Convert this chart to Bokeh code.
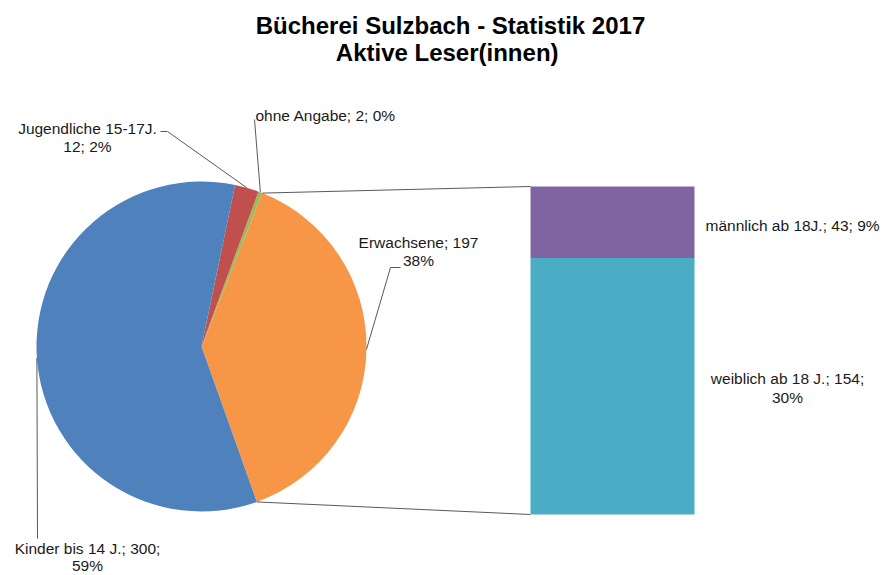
import math
from bokeh.plotting import figure
from bokeh.models import Range1d
from bokeh.core.properties import value
from bokeh.embed import file_html
from bokeh.resources import INLINE

# ---- data ----
pie_labels = ["Erwachsene", "ohne Angabe", "Jugendliche 15-17J.", "Kinder bis 14 J."]
pie_values = [197, 2, 12, 300]
pie_pcts = ["38%", "0%", "2%", "59%"]
pie_colors = ["#F79646", "#9BBB59", "#C0504D", "#4F81BD"]

bar_labels = ["weiblich ab 18 J.", "männlich ab 18J."]
bar_values = [154, 43]
bar_pcts = ["30%", "9%"]
bar_colors = ["#4BACC6", "#8064A2"]

title_lines = ["Bücherei Sulzbach - Statistik 2017", "Aktive  Leser(innen)"]

W, H = 889, 575
FONT = "Liberation Sans"
LBL = "15.5px"

def Y(yr):  # screen y -> data y
    return H - yr

def X(xr):
    return xr

p = figure(width=W, height=H, output_backend="svg", toolbar_location=None,
           x_range=Range1d(0, W), y_range=Range1d(0, H), min_border=0)
p.axis.visible = False
p.grid.visible = False
p.outline_line_color = None

# ---- pie ----
cx, cy, R = X(201), Y(346), 165
total = sum(pie_values)
start_deg = -70.4
angles = []
a = math.radians(start_deg)
for v in pie_values:
    span = 2 * math.pi * v / total
    angles.append((a, a + span))
    a += span

p.wedge(x=[cx] * 4, y=[cy] * 4, radius=R,
        start_angle=[s for s, e in angles], end_angle=[e for s, e in angles],
        direction="anticlock", fill_color=pie_colors, line_color=None)

def edge(ang):
    return cx + R * math.cos(ang), cy + R * math.sin(ang)

# ---- bar ----
bx0, bx1 = X(530), X(694)
bbot, btop = Y(514), Y(186)
sub_total = sum(bar_values)
scale = (btop - bbot) / sub_total
bottoms, tops = [], []
acc = 0
for v in bar_values:
    bottoms.append(bbot + acc * scale)
    acc += v
    tops.append(bbot + acc * scale)
p.quad(left=[bx0] * 2, right=[bx1] * 2, bottom=bottoms, top=tops,
       fill_color=bar_colors, line_color=None)

# connector lines between pie and bar
e_start, e_end = angles[0]
x1, y1 = edge(e_end)
x2, y2 = edge(e_start)
p.segment(x0=[x1, x2], y0=[y1, y2], x1=[bx0, bx0], y1=[tops[-1], bbot],
          line_color="#595959", line_width=1)

# ---- leader lines ----
lc = "#595959"
mx, my = edge((e_start + e_end) / 2)
p.line([mx, X(390), X(400)], [my, Y(267), Y(267)], line_color=lc, line_width=1)
s, e = angles[1]
mx, my = edge((s + e) / 2)
p.line([mx, X(254)], [my, Y(119)], line_color=lc, line_width=1)
s, e = angles[2]
mx, my = edge((s + e) / 2)
p.line([mx, X(167), X(160)], [my, Y(131), Y(131)], line_color=lc, line_width=1)
s, e = angles[3]
mx, my = edge((s + e) / 2)
p.line([mx, X(37)], [my, Y(538)], line_color=lc, line_width=1)

# ---- labels ----
tx_c, ty_c, tt_c = [], [], []
def add_c(x, y, t):
    tx_c.append(X(x)); ty_c.append(Y(y)); tt_c.append(t)

add_c(87, 128, f"{pie_labels[2]}")
add_c(87, 146, f"{pie_values[2]}; {pie_pcts[2]}")
add_c(418, 242, f"{pie_labels[0]}; {pie_values[0]}")
add_c(418, 260, pie_pcts[0])
add_c(87, 548, f"{pie_labels[3]}; {pie_values[3]};")
add_c(87, 565, pie_pcts[3])
add_c(787, 378, f"{bar_labels[0]}; {bar_values[0]};")
add_c(787, 397, bar_pcts[0])
p.text(x=tx_c, y=ty_c, text=tt_c, text_align="center", text_baseline="middle",
       text_font=value(FONT), text_font_size=LBL, text_color="#1a1a1a")

tx_l, ty_l, tt_l = [], [], []
def add_l(x, y, t):
    tx_l.append(X(x)); ty_l.append(Y(y)); tt_l.append(t)
add_l(255, 115, f"{pie_labels[1]}; {pie_values[1]}; {pie_pcts[1]}")
add_l(705, 225, f"{bar_labels[1]}; {bar_values[1]}; {bar_pcts[1]}")
p.text(x=tx_l, y=ty_l, text=tt_l, text_align="left", text_baseline="middle",
       text_font=value(FONT), text_font_size=LBL, text_color="#1a1a1a")

# ---- title ----
p.text(x=[X(450), X(450)], y=[Y(25), Y(52)], text=title_lines,
       text_align="center", text_baseline="middle",
       text_font=value(FONT), text_font_size="24px", text_font_style="bold",
       text_color="#000000")

open("out.html", "w").write(file_html(p, INLINE))
